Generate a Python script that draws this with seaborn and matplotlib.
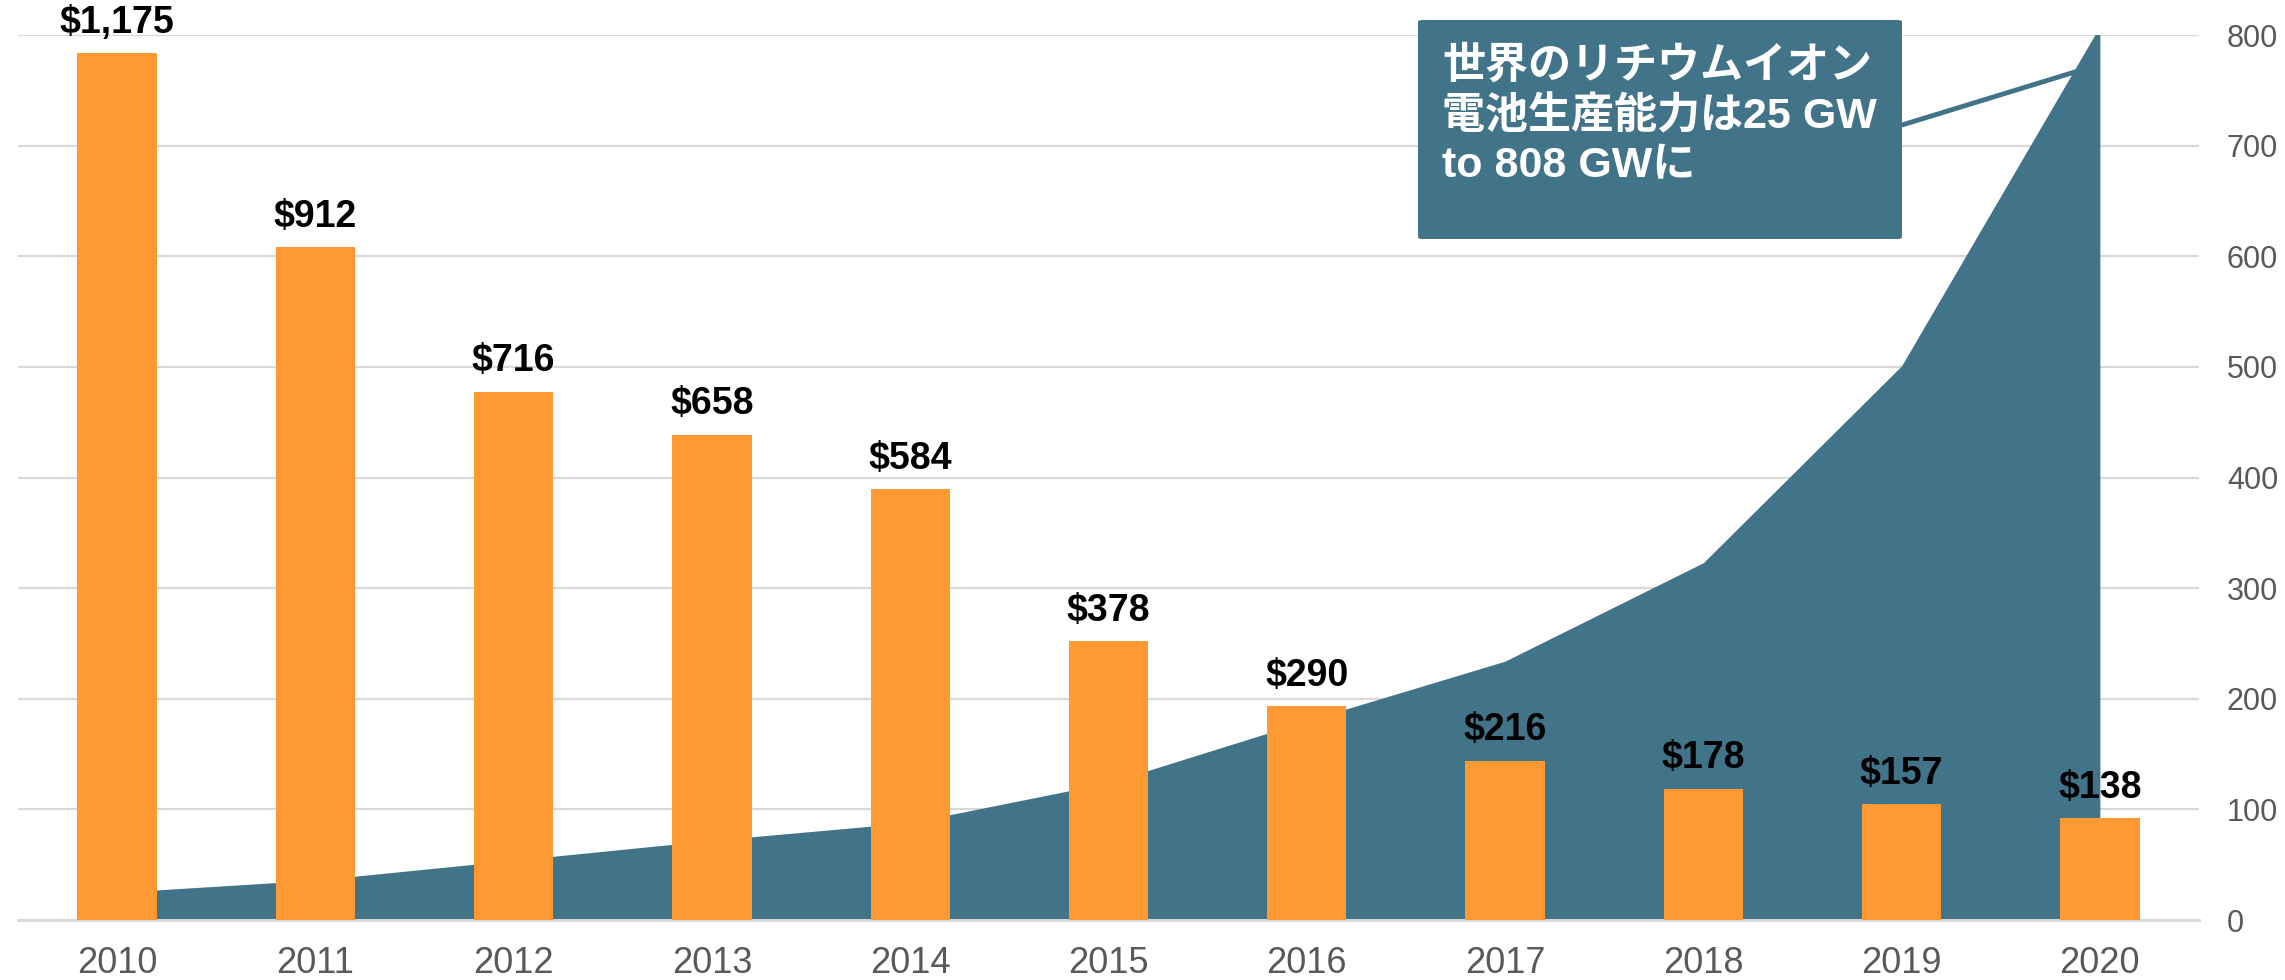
import matplotlib
matplotlib.use("Agg")
import matplotlib.pyplot as plt
from matplotlib.patches import FancyBboxPatch
import seaborn as sns
import numpy as np
import pandas as pd

# -----------------------------
# Data
# -----------------------------
years = ["2010", "2011", "2012", "2013", "2014", "2015",
         "2016", "2017", "2018", "2019", "2020"]
price = [1175, 912, 716, 658, 584, 378, 290, 216, 178, 157, 138]
capacity = [25, 36, 54, 72, 88, 124, 180, 234, 323, 501, 808]
right_ticks = [0, 100, 200, 300, 400, 500, 600, 700, 800]
note = "世界のリチウムイオン\n電池生産能力は25 GW\nto 808 GWに"

ORANGE = "#FF9933"
TEAL = "#417489"
GRID = "#D9D9D9"
TICK = "#595959"

sns.set_theme(style="white")
plt.rcParams["font.family"] = ["Liberation Sans", "Noto Sans CJK JP", "DejaVu Sans"]

df = pd.DataFrame({"year": years, "price": price, "capacity": capacity})

fig = plt.figure(figsize=(22.85, 9.8), dpi=100)
ax = fig.add_axes([18 / 2285, 60 / 980, 2181 / 2285, 885 / 980])
ax2 = ax.twinx()

# area (capacity) on the primary axes, ticks shown on the right
pos = np.arange(len(years))
ax.fill_between(pos, df["capacity"], color=TEAL, lw=0, zorder=2)
ax.set_ylim(0, 800)
ax.set_yticks(right_ticks)
ax.yaxis.tick_right()
ax.tick_params(axis="y", length=0, labelsize=22, labelcolor=TICK, pad=20)
ax.tick_params(axis="x", length=0, labelsize=26, labelcolor=TICK, pad=19)
ax.grid(axis="y", color=GRID, lw=1.6, zorder=0)
ax.set_axisbelow(True)

# bars (price) on the twin axes
sns.barplot(data=df, x="year", y="price", color=ORANGE, width=0.4,
            saturation=1, linewidth=0, ax=ax2, zorder=3)
ax2.set_ylim(0, 1200)
ax2.set_yticks([])
ax2.set_xlim(-0.5, len(years) - 0.5)
ax.set_xlim(-0.5, len(years) - 0.5)
ax.set_xticks(pos)
ax.set_xticklabels(years)
ax2.tick_params(axis="x", length=0, labelbottom=False)
ax2.set_xlabel("")
ax2.set_ylabel("")
ax.set_xlabel("")
ax.set_ylabel("")

labels = [f"${v:,}" for v in price]
ax2.bar_label(ax2.containers[0], labels=labels, padding=9,
              fontsize=27, fontweight="bold", color="black")

for a in (ax, ax2):
    for s in ("top", "left", "right"):
        a.spines[s].set_visible(False)
    a.spines["bottom"].set_color(GRID)
    a.spines["bottom"].set_linewidth(2)

# callout box + connector
ax2.annotate("", xy=(9.9, 768 * 1.5), xycoords="data",
             xytext=(1902 / 2285, 1 - 125 / 980), textcoords="figure fraction",
             arrowprops=dict(arrowstyle="-", color=TEAL, lw=3.5,
                             shrinkA=0, shrinkB=0))

box = FancyBboxPatch((1418 / 2285, 1 - 239 / 980), 484 / 2285, 219 / 980,
                     boxstyle="round,pad=0,rounding_size=0.002",
                     transform=fig.transFigure, facecolor=TEAL,
                     edgecolor="none")
fig.add_artist(box)
fig.text(1442 / 2285, 1 - 46 / 980, note, color="white", fontsize=31,
         fontweight="bold", va="top", ha="left", linespacing=1.28)

fig.savefig("out.png", dpi=100)
